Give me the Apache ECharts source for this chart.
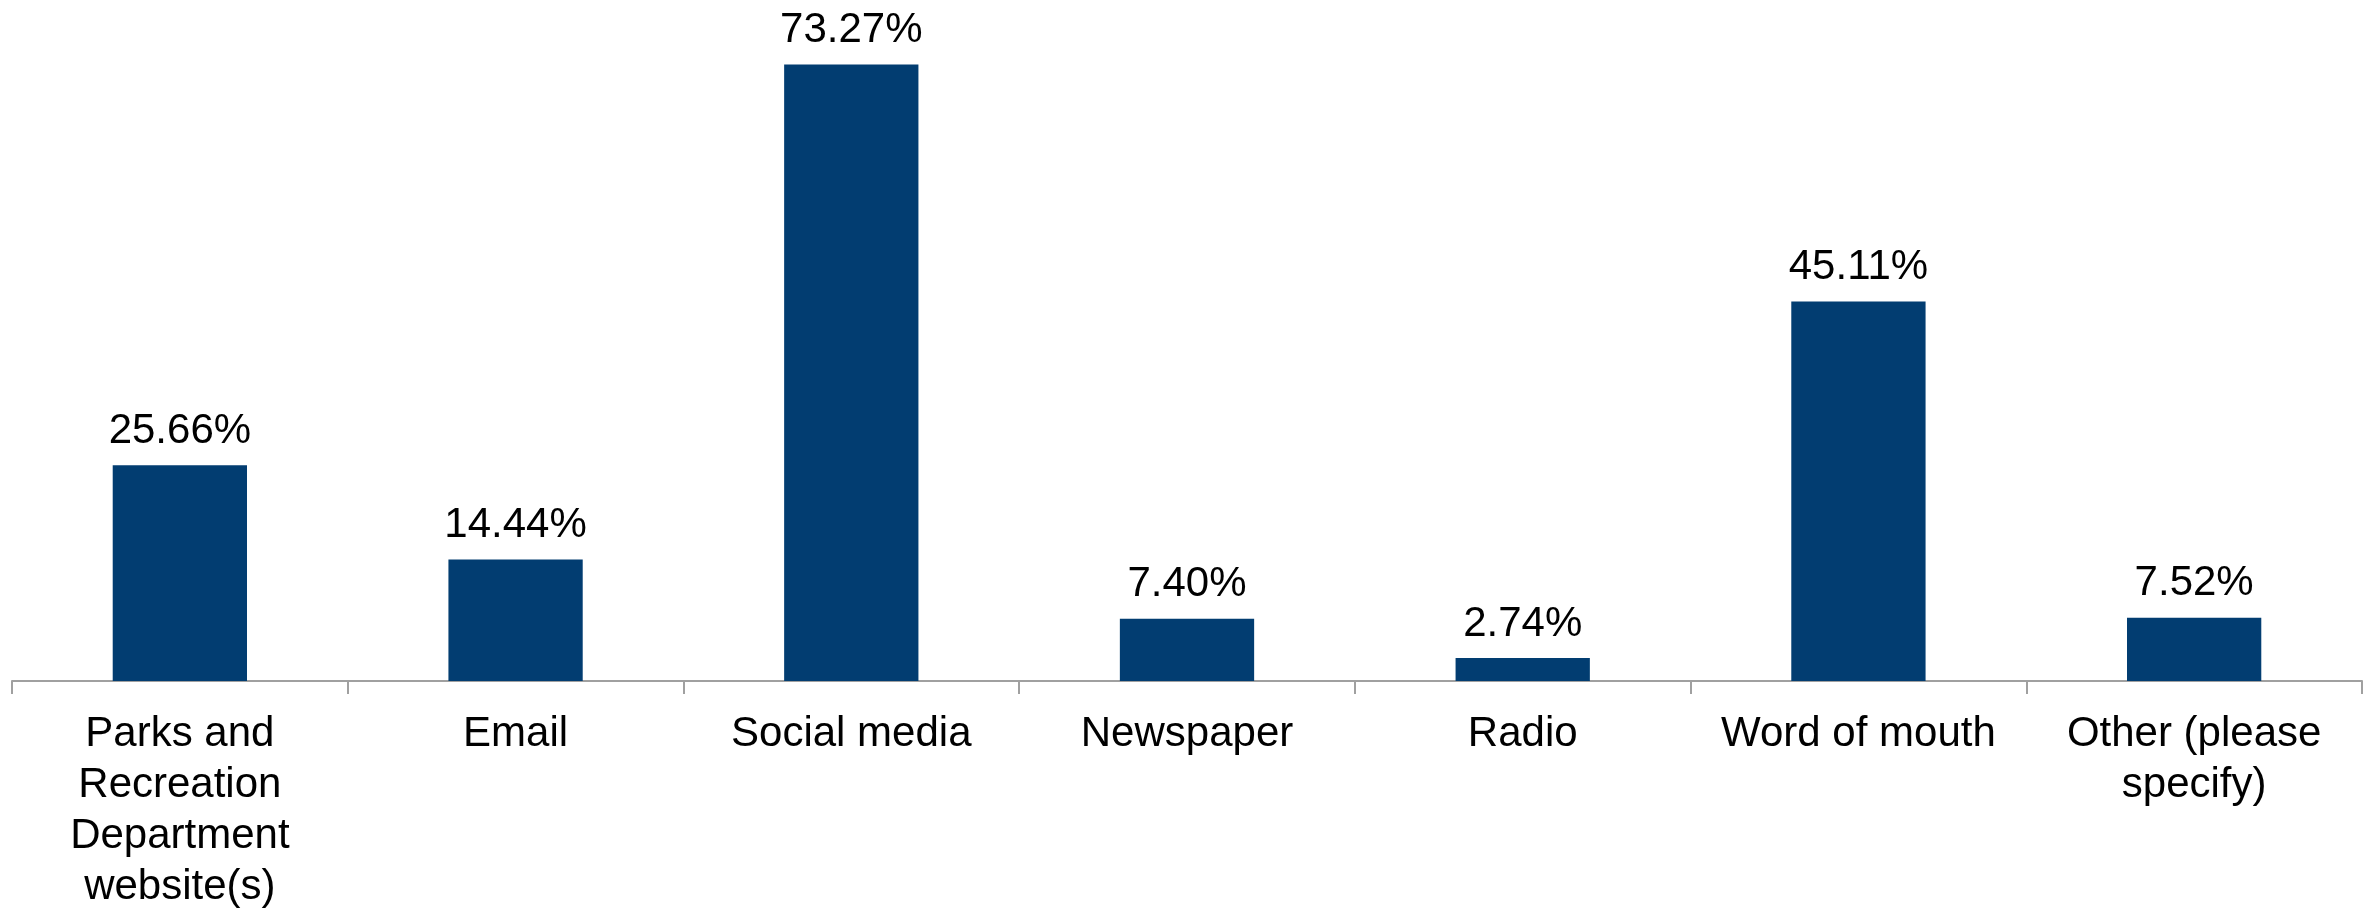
<!DOCTYPE html>
<html><head><meta charset="utf-8">
<script src="https://cdn.jsdelivr.net/npm/echarts@6/dist/echarts.min.js"></script>
<style>html,body{margin:0;padding:0;background:#fff}#c{width:2374px;height:910px}</style>
</head><body><div id="c"></div>
<script>
const categories = ["Parks and\nRecreation\nDepartment\nwebsite(s)", "Email", "Social media", "Newspaper", "Radio", "Word of mouth", "Other (please\nspecify)"];
const values = [25.66, 14.44, 73.27, 7.40, 2.74, 45.11, 7.52];

const chart = echarts.init(document.getElementById('c'));
chart.setOption({
  animation: false,
  grid: { left: 12, right: 12, top: 8, bottom: 229, containLabel: false, outerBoundsMode: 'none' },
  xAxis: {
    type: 'category', data: categories,
    axisLine: { lineStyle: { color: '#a0a0a0', width: 2 } },
    axisTick: { show: true, length: 13, lineStyle: { color: '#a0a0a0', width: 2 } },
    axisLabel: { interval: 0, color: '#000', fontFamily: 'Liberation Sans', fontSize: 42, lineHeight: 51, margin: 28 }
  },
  yAxis: { type: 'value', min: 0, max: 80, show: false, splitLine: { show: false } },
  series: [{
    type: 'bar', data: values, barWidth: '40%',
    itemStyle: { color: '#023D71' },
    label: { show: true, position: 'top', distance: 13, color: '#000', fontFamily: 'Liberation Sans', fontSize: 42,
      formatter: p => p.value.toFixed(2) + '%' }
  }]
});
</script></body></html>
